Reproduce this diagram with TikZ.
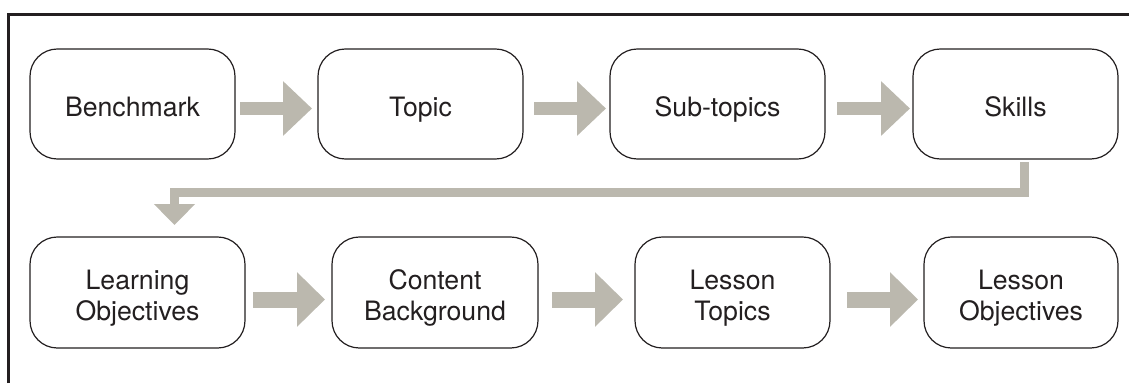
\documentclass[tikz,border=0pt]{standalone}
\usepackage{fontspec}
\setmainfont{TeX Gyre Heros}
\usetikzlibrary{arrows.meta}
\usetikzlibrary{calc}

\definecolor{flowgray}{RGB}{187,184,174}
\definecolor{inkgray}{RGB}{35,31,32}

% text of a box, set a little below the middle
\newcommand{\stagetext}[1]{\raisebox{-4.5pt}[\height][\depth]{\begin{tabular}{@{}c@{}}#1\end{tabular}}}

\tikzset{
  stage/.style={draw=inkgray, line width=0.9pt, rounded corners=20.5pt, fill=white,
    inner sep=0pt, outer sep=0pt, text=inkgray,
    font=\fontsize{20}{23.5}\selectfont},
  flow/.style={draw=flowgray, line width=9.4pt, -{Triangle[length=21.75pt,width=39.75pt]}},
  flowwide/.style={flow, line width=12pt, -{Triangle[length=21pt,width=39.75pt]}},
  elbow/.style={draw=flowgray, line width=6.75pt, -{Triangle[length=15.75pt,width=30pt]}}
}

\begin{document}
\begin{tikzpicture}[x=0.75pt,y=0.75pt,yscale=-1,xscale=1]
\useasboundingbox (0,0) rectangle (1129,383);

%Frame (top and left edges)
\draw [inkgray, line width=1.9pt] (8.7,383) -- (8.7,14.5) -- (1129,14.5) ;

%Upper row
\node (bench) at (132.5,104) [stage, minimum width=153.75pt, minimum height=82.5pt] {\stagetext{Benchmark}};
\node (topic) at (420.5,104) [stage, minimum width=153.75pt, minimum height=82.5pt] {\stagetext{Topic}};
\node (subtop) at (717.5,104) [stage, minimum width=161.25pt, minimum height=82.5pt] {\stagetext{Sub-topics}};
\node (skills) at (1015.5,104) [stage, minimum width=153.75pt, minimum height=82.5pt] {\stagetext{Skills}};

%Lower row
\node (learn) at (137.5,292.5) [stage, minimum width=161.25pt, minimum height=83.25pt] {\stagetext{Learning\\Objectives}};
\node (content) at (435,292.5) [stage, minimum width=154.5pt, minimum height=83.25pt] {\stagetext{Content\\Background}};
\node (lestop) at (732.5,292.5) [stage, minimum width=146.25pt, minimum height=83.25pt] {\stagetext{Lesson\\Topics}};
\node (lesobj) at (1021,292.5) [stage, minimum width=145.5pt, minimum height=83.25pt] {\stagetext{Lesson\\Objectives}};

%Arrows, upper row
\draw [flow, shorten <=3.75pt, shorten >=4.5pt] ($(bench.east)+(0,4.5)$) -- ($(topic.west)+(0,4.5)$) ;
\draw [flow, shorten <=8.25pt, shorten >=3pt] ($(topic.east)+(0,4.5)$) -- ($(subtop.west)+(0,4.5)$) ;
\draw [flow, shorten <=9pt, shorten >=2.25pt] ($(subtop.east)+(0,4.5)$) -- ($(skills.west)+(0,4.5)$) ;

%Bent arrow down to the lower row
\draw [elbow] ($(skills.south)+(8.5,3)$) -- ++(0,30.5) -| ($(learn.north)+(37,-12)$) ;

%Arrows, lower row
\draw [flowwide, shorten <=6pt, shorten >=5.25pt] ($(learn.east)+(0,7)$) -- ($(content.west)+(0,7)$) ;
\draw [flowwide, shorten <=10.5pt, shorten >=9pt] ($(content.east)+(0,7)$) -- ($(lestop.west)+(0,7)$) ;
\draw [flowwide, shorten <=12.75pt, shorten >=4.5pt] ($(lestop.east)+(0,7)$) -- ($(lesobj.west)+(0,7)$) ;

\end{tikzpicture}
\end{document}
